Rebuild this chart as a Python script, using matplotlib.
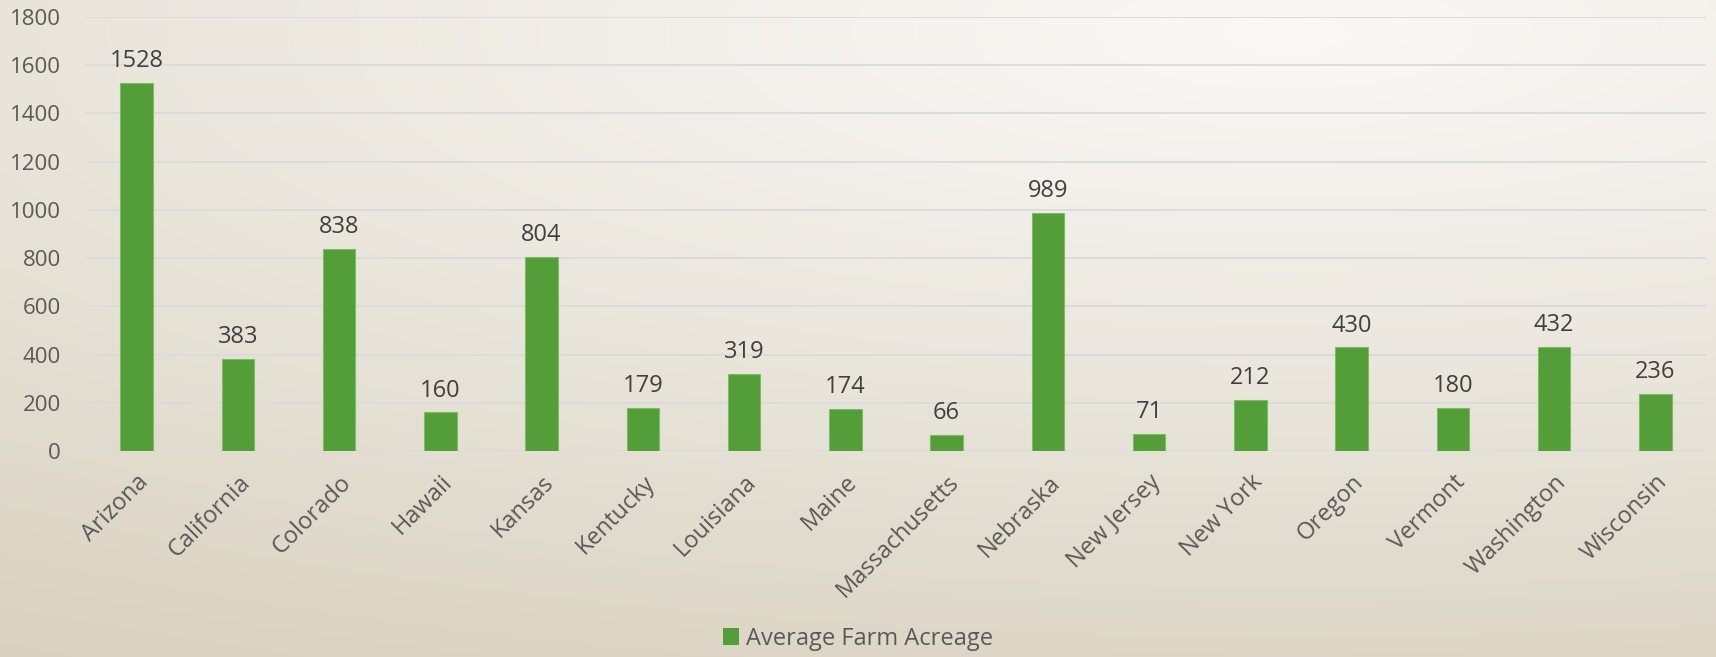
import numpy as np
import matplotlib
matplotlib.use("Agg")
import matplotlib.pyplot as plt
from matplotlib.patches import Patch

states = ["Arizona", "California", "Colorado", "Hawaii", "Kansas", "Kentucky",
          "Louisiana", "Maine", "Massachusetts", "Nebraska", "New Jersey",
          "New York", "Oregon", "Vermont", "Washington", "Wisconsin"]
acreage = [1528, 383, 838, 160, 804, 179, 319, 174, 66, 989, 71, 212, 430, 180, 432, 236]
yticks = [0, 200, 400, 600, 800, 1000, 1200, 1400, 1600, 1800]

W, H = 1716, 657
fig = plt.figure(figsize=(W / 100, H / 100), dpi=100)
plt.rcParams['font.family'] = ['Open Sans', 'DejaVu Sans']

# background gradient
bg = fig.add_axes([0, 0, 1, 1], zorder=-10)
yy, xx = np.mgrid[0:1:300j, 0:1:600j]
cx, cy = 0.75, 0.05
d = np.sqrt(((xx - cx) * 1.0) ** 2 + ((yy - cy) * 1.3) ** 2)
d = np.clip(d / 1.45, 0, 1)
light = np.array([0xfa, 0xf9, 0xf6]) / 255
dark = np.array([0xd9, 0xd1, 0xc0]) / 255
img = light[None, None, :] * (1 - d[..., None]) + dark[None, None, :] * d[..., None]
bg.imshow(img, aspect='auto', extent=[0, 1, 1, 0])
bg.set_axis_off()

left, right = 86 / W, 1706 / W
bottom, top = 1 - 451 / H, 1 - 17 / H
ax = fig.add_axes([left, bottom, right - left, top - bottom])
ax.patch.set_alpha(0)

green = "#539e39"
x = np.arange(len(states))
ax.bar(x, acreage, width=0.32, color=green, edgecolor="#7cbd64", linewidth=0.8, zorder=3)
ax.set_xlim(-0.5, len(states) - 0.5)
ax.set_ylim(0, 1800)
ax.set_yticks(yticks)
ax.set_yticklabels([str(v) for v in yticks], fontsize=16, color="#595959")
ax.grid(axis='y', color="#dadadd", linewidth=1.3, zorder=0)
for s in ax.spines.values():
    s.set_visible(False)
ax.tick_params(axis='both', length=0)
ax.tick_params(axis='y', pad=18)
ax.set_xticks(x)
ax.set_xticklabels(states, rotation=45, ha='right', rotation_mode='anchor',
                   fontsize=17, color="#595959")
ax.tick_params(axis='x', pad=14)

for xi, v in zip(x, acreage):
    ax.annotate(str(v), (xi, v), xytext=(0, 7), textcoords='offset points',
                ha='center', va='bottom', fontsize=17, color="#404040")

fig.legend(handles=[Patch(facecolor=green, label="Average Farm Acreage")],
           loc='center', bbox_to_anchor=(0.5, 1 - 639 / H), frameon=False,
           fontsize=17, labelcolor="#595959", handlelength=0.7, handleheight=0.7,
           handletextpad=0.3)

fig.savefig("out.png", dpi=100)
